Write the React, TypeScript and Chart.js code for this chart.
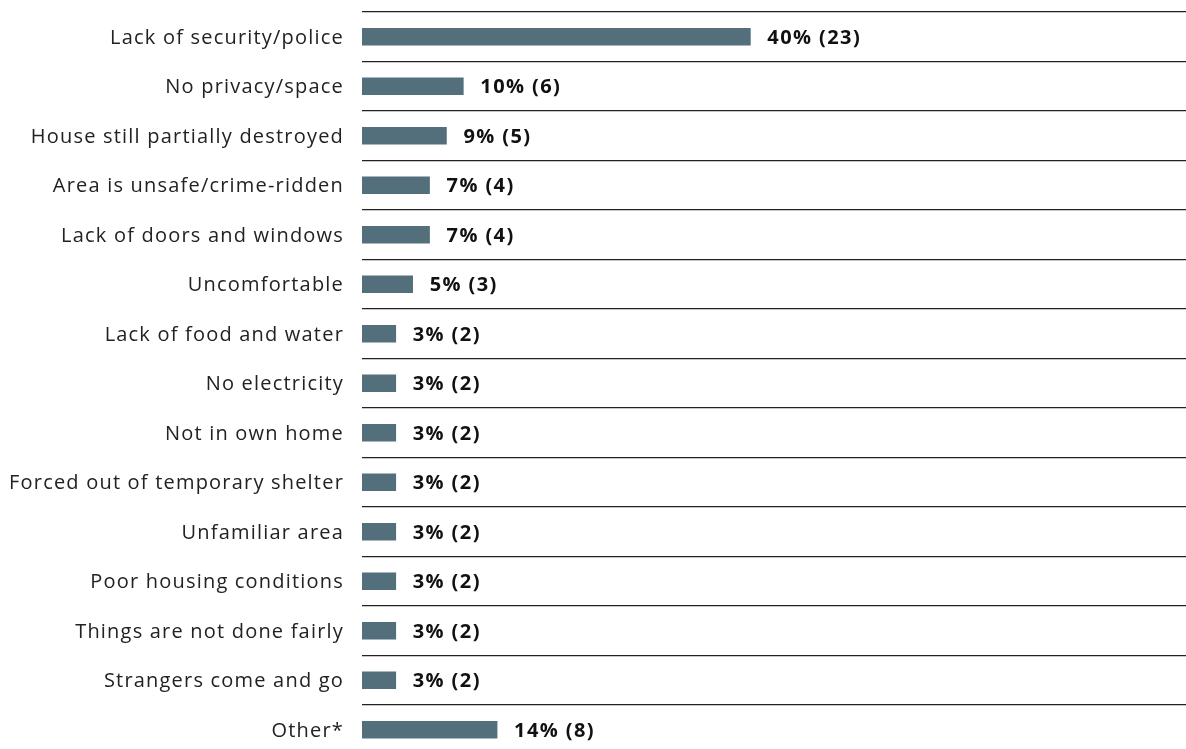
import React, { useEffect, useRef } from "react";
import { Chart, registerables } from "chart.js";

Chart.register(...registerables);

const categories = [
  "Lack of security/police",
  "No privacy/space",
  "House still partially destroyed",
  "Area is unsafe/crime-ridden",
  "Lack of doors and windows",
  "Uncomfortable",
  "Lack of food and water",
  "No electricity",
  "Not in own home",
  "Forced out of temporary shelter",
  "Unfamiliar area",
  "Poor housing conditions",
  "Things are not done fairly",
  "Strangers come and go",
  "Other*",
];
const counts = [23, 6, 5, 4, 4, 3, 2, 2, 2, 2, 2, 2, 2, 2, 8];
const percents = [40, 10, 9, 7, 7, 5, 3, 3, 3, 3, 3, 3, 3, 3, 14];
const xMax = 48.8;

const FONT = "'Open Sans', sans-serif";

export default function App() {
  const ref = useRef<HTMLCanvasElement>(null);
  useEffect(() => {
    if (!ref.current) return;
    const spacingPlugin = {
      id: "spacing",
      beforeDraw(chart: any) {
        chart.ctx.letterSpacing = "1.2px";
      },
    };
    const labelPlugin = {
      id: "valueLabels",
      afterDatasetsDraw(chart: any) {
        const ctx = chart.ctx;
        const meta = chart.getDatasetMeta(0);
        ctx.save();
        ctx.letterSpacing = "1.4px";
        ctx.font = `bold 20px ${FONT}`;
        ctx.fillStyle = "#111";
        ctx.textAlign = "left";
        ctx.textBaseline = "middle";
        meta.data.forEach((bar: any, i: number) => {
          ctx.fillText(`${percents[i]}% (${counts[i]})`, bar.x + 17, bar.y + 1.5);
        });
        ctx.restore();
      },
    };
    const chart = new Chart(ref.current, {
      type: "bar",
      data: {
        labels: categories,
        datasets: [
          {
            data: counts,
            backgroundColor: "#546f7c",
            barThickness: 17,
          },
        ],
      },
      options: {
        indexAxis: "y",
        animation: false,
        responsive: false,
        devicePixelRatio: 1,
        layout: { padding: { top: 12, right: 0, bottom: 5.5, left: 0 } },
        plugins: {
          legend: { display: false },
          tooltip: { enabled: false },
        },
        scales: {
          x: {
            display: false,
            min: 0,
            max: xMax,
          },
          y: {
            afterFit(scale: any) {
              scale.width = 362;
              scale.paddingTop = 0;
              scale.paddingBottom = 0;
            },
            border: { display: false },
            grid: {
              offset: true,
              drawTicks: false,
              color: "#222",
              lineWidth: 1.3,
            },
            ticks: {
              padding: 18,
              labelOffset: 1.5,
              color: "#222",
              font: { family: FONT, size: 20 },
            },
          },
        },
      },
      plugins: [spacingPlugin, labelPlugin],
    });
    return () => chart.destroy();
  }, []);
  return (
    <div
      style={{
        position: "fixed",
        left: 0,
        top: 0,
        width: 1186,
        height: 749,
        overflow: "hidden",
        background: "#fff",
      }}
    >
      <canvas ref={ref} width={1186} height={760} style={{ display: "block" }} />
    </div>
  );
}
